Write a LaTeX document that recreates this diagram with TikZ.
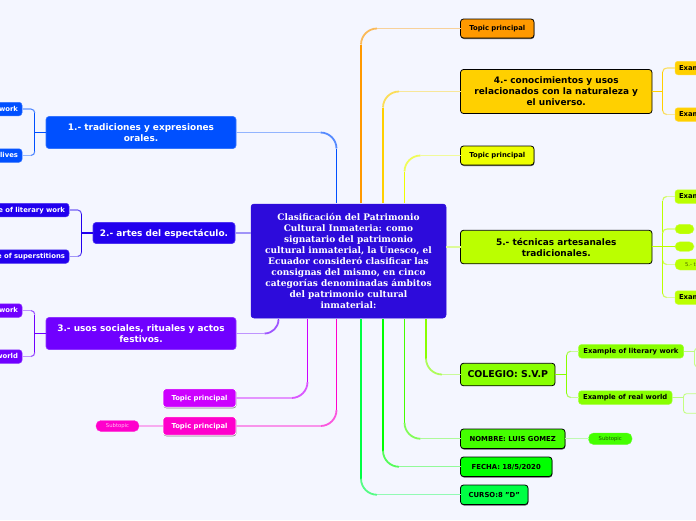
\documentclass[tikz,border=0pt]{standalone}
\usepackage{fontspec}
\setmainfont{DejaVu Sans}
\newfontfamily\serifbold{DejaVu Serif}[BoldFont={DejaVu Serif Bold}]
\usetikzlibrary{calc,shadows}
\definecolor{bgc}{HTML}{F4F6FF}
\definecolor{cRoot}{HTML}{2D0BDB}
\definecolor{cBlue}{HTML}{0050FF}
\definecolor{cIndigo}{HTML}{2200EE}
\definecolor{cViolet}{HTML}{7000FF}
\definecolor{cMag}{HTML}{CC00FF}
\definecolor{cPink}{HTML}{FF00CC}
\definecolor{cOrange}{HTML}{FF9900}
\definecolor{cGold}{HTML}{FFD000}
\definecolor{cYellow}{HTML}{EEFF00}
\definecolor{cLime}{HTML}{BBFF00}
\definecolor{cGrass}{HTML}{88FF00}
\definecolor{cLeaf}{HTML}{44FF00}
\definecolor{cGreen}{HTML}{00FF00}
\definecolor{cMint}{HTML}{00FF44}
\newcommand{\mainf}{\fontsize{8.95}{11}\selectfont\bfseries}
\newcommand{\topicf}{\fontsize{6.85}{9}\selectfont\bfseries}
\newcommand{\subf}{\fontsize{5.3}{7}\selectfont}
\tikzset{
 base/.style={rounded corners=3pt,inner sep=0pt,outer sep=0pt,align=center},
 mainw/.style={base,fill=#1,draw=#1!80!white,line width=.6pt,text=white,font=\mainf,text depth=0pt},
 maink/.style={base,fill=#1,draw=black,line width=.8pt,text=black,font=\mainf,text depth=0pt},
 topick/.style={base,fill=#1,draw=black,line width=.8pt,text=black,font=\topicf,text height=5pt,text depth=0.5pt,
   drop shadow={shadow xshift=0.4pt,shadow yshift=-1pt,opacity=.65,fill=black}},
 topicw/.style={base,fill=#1,draw=white,line width=.7pt,text=white,font=\topicf,text height=5pt,text depth=0.5pt,
   drop shadow={shadow xshift=0.4pt,shadow yshift=-1pt,opacity=.5,fill=black}},
 leafw/.style={base,fill=#1,draw=#1!80!white,line width=.5pt,text=white,font=\topicf,text height=5pt,text depth=0.5pt},
 leafk/.style={base,fill=#1,draw=#1!80!white,line width=.5pt,text=black,font=\topicf,text height=5pt,text depth=0.5pt},
 pill/.style={base,rounded corners=5pt,fill=#1,draw=#1!80!white,line width=.4pt,font=\subf},
 emptybox/.style={base,fill=bgc,draw=#1!50!white,line width=.9pt},
 offleft/.style={anchor=east,text width=110pt,align=right,inner xsep=4pt,minimum height=13.5pt},
 offright/.style={anchor=west,text width=50pt,align=left,inner xsep=4pt,minimum height=13.5pt},
}
% #1 start, #2 child anchor, #3 colour, #4 vertical sign, #5 horizontal sign, #6 radius, #7 width
\newcommand{\elbow}[7]{%
  \draw[#3,line width=#7pt] (#1) -- ($(#1 |- #2)+(0,{-(#4)*#6})$);
  \draw[#3!65!bgc,line width=#7pt] ($(#1 |- #2)+(0,{-(#4)*#6})$)
     .. controls ($(#1 |- #2)+(0,{-(#4)*#6*0.45})$) and ($(#1 |- #2)+({(#5)*#6*0.45},0)$)
     .. ($(#1 |- #2)+({(#5)*#6},0)$);
  \draw[#3!40!bgc,line width=1.2pt] ($(#1 |- #2)+({(#5)*#6},0)$) -- (#2);
}
\begin{document}
\begin{tikzpicture}[x=1pt,y=-1pt]
\useasboundingbox[fill=bgc] (0,0) rectangle (696,520);
% main nodes
\node[base,fill=cRoot,draw=cRoot,line width=.5pt,text=white,minimum width=195pt,minimum height=114pt,
  font=\fontsize{9}{11}\selectfont\serifbold\bfseries] (root) at (348.5,261)
  {\raisebox{-1pt}{\parbox{190pt}{\centering\lineskiplimit=0pt Clasificación del Patrimonio\\Cultural Inmateria: como\\signatario del patrimonio\\cultural inmaterial, la Unesco, el\\Ecuador consideró clasificar las\\consignas del mismo, en cinco\\categorías denominadas ámbitos\\del patrimonio cultural\\inmaterial:}}};
\node[mainw=cBlue,minimum width=190pt,minimum height=32pt] (n1) at (141,132.5) {1.- tradiciones y expresiones\\orales.};
\node[mainw=cIndigo,minimum width=142pt,minimum height=21pt] (n2) at (164,233) {2.- artes del espectáculo.};
\node[mainw=cViolet,minimum width=190pt,minimum height=32pt] (n3) at (141,333.5) {3.- usos sociales, rituales y actos\\festivos.};
\node[topicw=cMag,minimum width=73pt,minimum height=18.5pt] (t1) at (199.5,398) {Topic principal};
\node[topicw=cPink,minimum width=73pt,minimum height=18.5pt] (t2) at (199.5,426) {Topic principal};
\node[pill=cPink,text=white!75!cPink,minimum width=43pt,minimum height=11pt] (s1) at (117.5,426) {Subtopic};
\node[topick=cOrange,minimum width=73.5pt,minimum height=19pt] (t3) at (497.25,28.5) {Topic principal};
\node[maink=cGold,minimum width=191.5pt,minimum height=44pt] (n4) at (556.25,91.5) {4.- conocimientos y usos\\relacionados con la naturaleza y\\el universo.};
\node[topick=cYellow,minimum width=73.5pt,minimum height=19pt] (t4) at (497.25,155.5) {Topic principal};
\node[maink=cLime,minimum width=191.5pt,minimum height=33.5pt] (n5) at (556.25,247) {5.- técnicas artesanales\\tradicionales.};
\node[maink=cGrass,minimum width=94.5pt,minimum height=22.5pt,font=\fontsize{9.4}{11}\selectfont\bfseries] (n6) at (507.75,374.5) {COLEGIO: S.V.P};
\node[topick=cLeaf,minimum width=104.5pt,minimum height=19.5pt] (t5) at (512.75,438.75) {NOMBRE: LUIS GOMEZ};
\node[topick=cGreen,minimum width=91.5pt,minimum height=19.5pt] (t6) at (506.25,466.75) {FECHA: 18/5/2020};
\node[topick=cMint,minimum width=67.5pt,minimum height=19.5pt] (t7) at (494.25,494.75) {CURSO:8 "D"};
\node[pill=cLeaf,text=black!65!cLeaf,minimum width=43.5pt,minimum height=11.5pt] (s2) at (610.25,438.75) {Subtopic};
% left leaves (running off the page)
\node[leafw=cBlue,offleft] (a1) at (22,109) {work};
\node[leafw=cBlue,offleft] (a2) at (22,155.5) {lives};
\node[leafw=cIndigo,offleft] (b1) at (69,210) {e of literary work};
\node[leafw=cIndigo,offleft] (b2) at (69,256.5) {e of superstitions};
\node[leafw=cViolet,offleft] (c1) at (22,310.5) {work};
\node[leafw=cViolet,offleft] (c2) at (22,356.5) {world};
% right leaves (running off the page)
\node[leafk=cGold,offright] (d1) at (675,68) {Exam};
\node[leafk=cGold,offright] (d2) at (675,114.5) {Exam};
\node[leafk=cLime,offright] (e1) at (675,196.5) {Exam};
\node[pill=cLime,minimum width=19pt,minimum height=9.5pt] (e2) at (684.5,229) {};
\node[pill=cLime,minimum width=19pt,minimum height=9.5pt] (e3) at (684.5,246.5) {};
\node[pill=cLime,anchor=west,text width=40pt,align=left,inner xsep=10pt,minimum height=11pt,text=black!60!cLime] (e4) at (675,264.5) {5.- t};
\node[leafk=cLime,offright] (e5) at (675,297.5) {Exam};
\node[leafk=cGrass,minimum width=105pt,minimum height=13.5pt] (f1) at (631,351.25) {Example of literary work};
\node[leafk=cGrass,minimum width=93.5pt,minimum height=13.5pt] (f2) at (625.25,397.5) {Example of real world};
\node[emptybox=cGrass,anchor=west,minimum width=30pt,minimum height=18.5pt] (g1) at (694.5,357.5) {};
\node[emptybox=cGrass,anchor=west,minimum width=30pt,minimum height=19.5pt] (g2) at (683.5,403.5) {};
% anchors on the root's edges
\coordinate (ru1) at (336.5,203);
\coordinate (ru2) at (361,203);
\coordinate (ru3) at (383,203);
\coordinate (ru4) at (404.5,203);
\coordinate (rd1) at (278.5,319);
\coordinate (rd2) at (307.5,319);
\coordinate (rd3) at (336.5,319);
\coordinate (rd4) at (361,319);
\coordinate (rd5) at (383,319);
\coordinate (rd6) at (404.5,319);
\coordinate (rd7) at (426,319);
% trunks
\coordinate (ta) at (34.8,132.5);
\coordinate (tb) at (81.5,233);
\coordinate (tc) at (34.8,333.5);
\coordinate (td) at (662.7,91.5);
\coordinate (te) at (662.7,246.5);
\coordinate (tf) at (566.7,374.5);
% root connectors
\elbow{ru1}{n1.east}{cBlue}{-1}{-1}{16}{1.8}
\elbow{ru2}{t3.west}{cOrange}{-1}{1}{16}{1.8}
\elbow{ru3}{n4.west}{cGold}{-1}{1}{16}{1.8}
\elbow{ru4}{t4.west}{cYellow}{-1}{1}{16}{1.8}
\elbow{rd1}{n3.east}{cViolet}{1}{-1}{14}{1.8}
\elbow{rd2}{t1.east}{cMag}{1}{-1}{16}{1.8}
\elbow{rd3}{t2.east}{cPink}{1}{-1}{16}{1.8}
\elbow{rd4}{t7.west}{cMint}{1}{1}{16}{1.8}
\elbow{rd5}{t6.west}{cGreen}{1}{1}{16}{1.8}
\elbow{rd6}{t5.west}{cLeaf}{1}{1}{16}{1.8}
\elbow{rd7}{n6.west}{cGrass}{1}{1}{16}{1.8}
\draw[cIndigo!40!bgc,line width=1.1pt] (n2.east) -- (root.west |- n2.east);
\draw[cLime!40!bgc,line width=1.1pt] (n5.west) -- (root.east |- n5.west);
% brackets
\draw[cBlue,line width=1.1pt] (n1.west) -- (ta);
\elbow{ta}{a1.east}{cBlue}{-1}{-1}{4}{1.1}
\elbow{ta}{a2.east}{cBlue}{1}{-1}{4}{1.1}
\draw[cIndigo,line width=1.1pt] (n2.west) -- (tb);
\elbow{tb}{b1.east}{cIndigo}{-1}{-1}{4}{1.1}
\elbow{tb}{b2.east}{cIndigo}{1}{-1}{4}{1.1}
\draw[cViolet,line width=1.1pt] (n3.west) -- (tc);
\elbow{tc}{c1.east}{cViolet}{-1}{-1}{4}{1.1}
\elbow{tc}{c2.east}{cViolet}{1}{-1}{4}{1.1}
\draw[cGold,line width=1.1pt] (n4.east) -- (td);
\elbow{td}{d1.west}{cGold}{-1}{1}{4}{1.1}
\elbow{td}{d2.west}{cGold}{1}{1}{4}{1.1}
\draw[cLime,line width=1.1pt] (n5.east |- te) -- (te);
\elbow{te}{e1.west}{cLime}{-1}{1}{4}{1.1}
\elbow{te}{e2.west}{cLime}{-1}{1}{4}{1.1}
\draw[cLime,line width=1.1pt] (te) -- (e3.west);
\elbow{te}{e4.west}{cLime}{1}{1}{4}{1.1}
\elbow{te}{e5.west}{cLime}{1}{1}{4}{1.1}
\draw[cGrass,line width=1.1pt] (n6.east) -- (tf);
\elbow{tf}{f1.west}{cGrass}{-1}{1}{4}{1.1}
\elbow{tf}{f2.west}{cGrass}{1}{1}{4}{1.1}
\draw[cGrass!50!bgc,line width=1.1pt] (f1.east) -- (g1.west |- f1.east);
\draw[cGrass!50!bgc,line width=1.1pt] (f2.east) -- (g2.west |- f2.east);
\draw[cPink!30!bgc,line width=1.3pt] (t2.west) -- (s1.east);
\draw[cLeaf!30!bgc,line width=1.3pt] (t5.east) -- (s2.west);
\end{tikzpicture}
\end{document}
